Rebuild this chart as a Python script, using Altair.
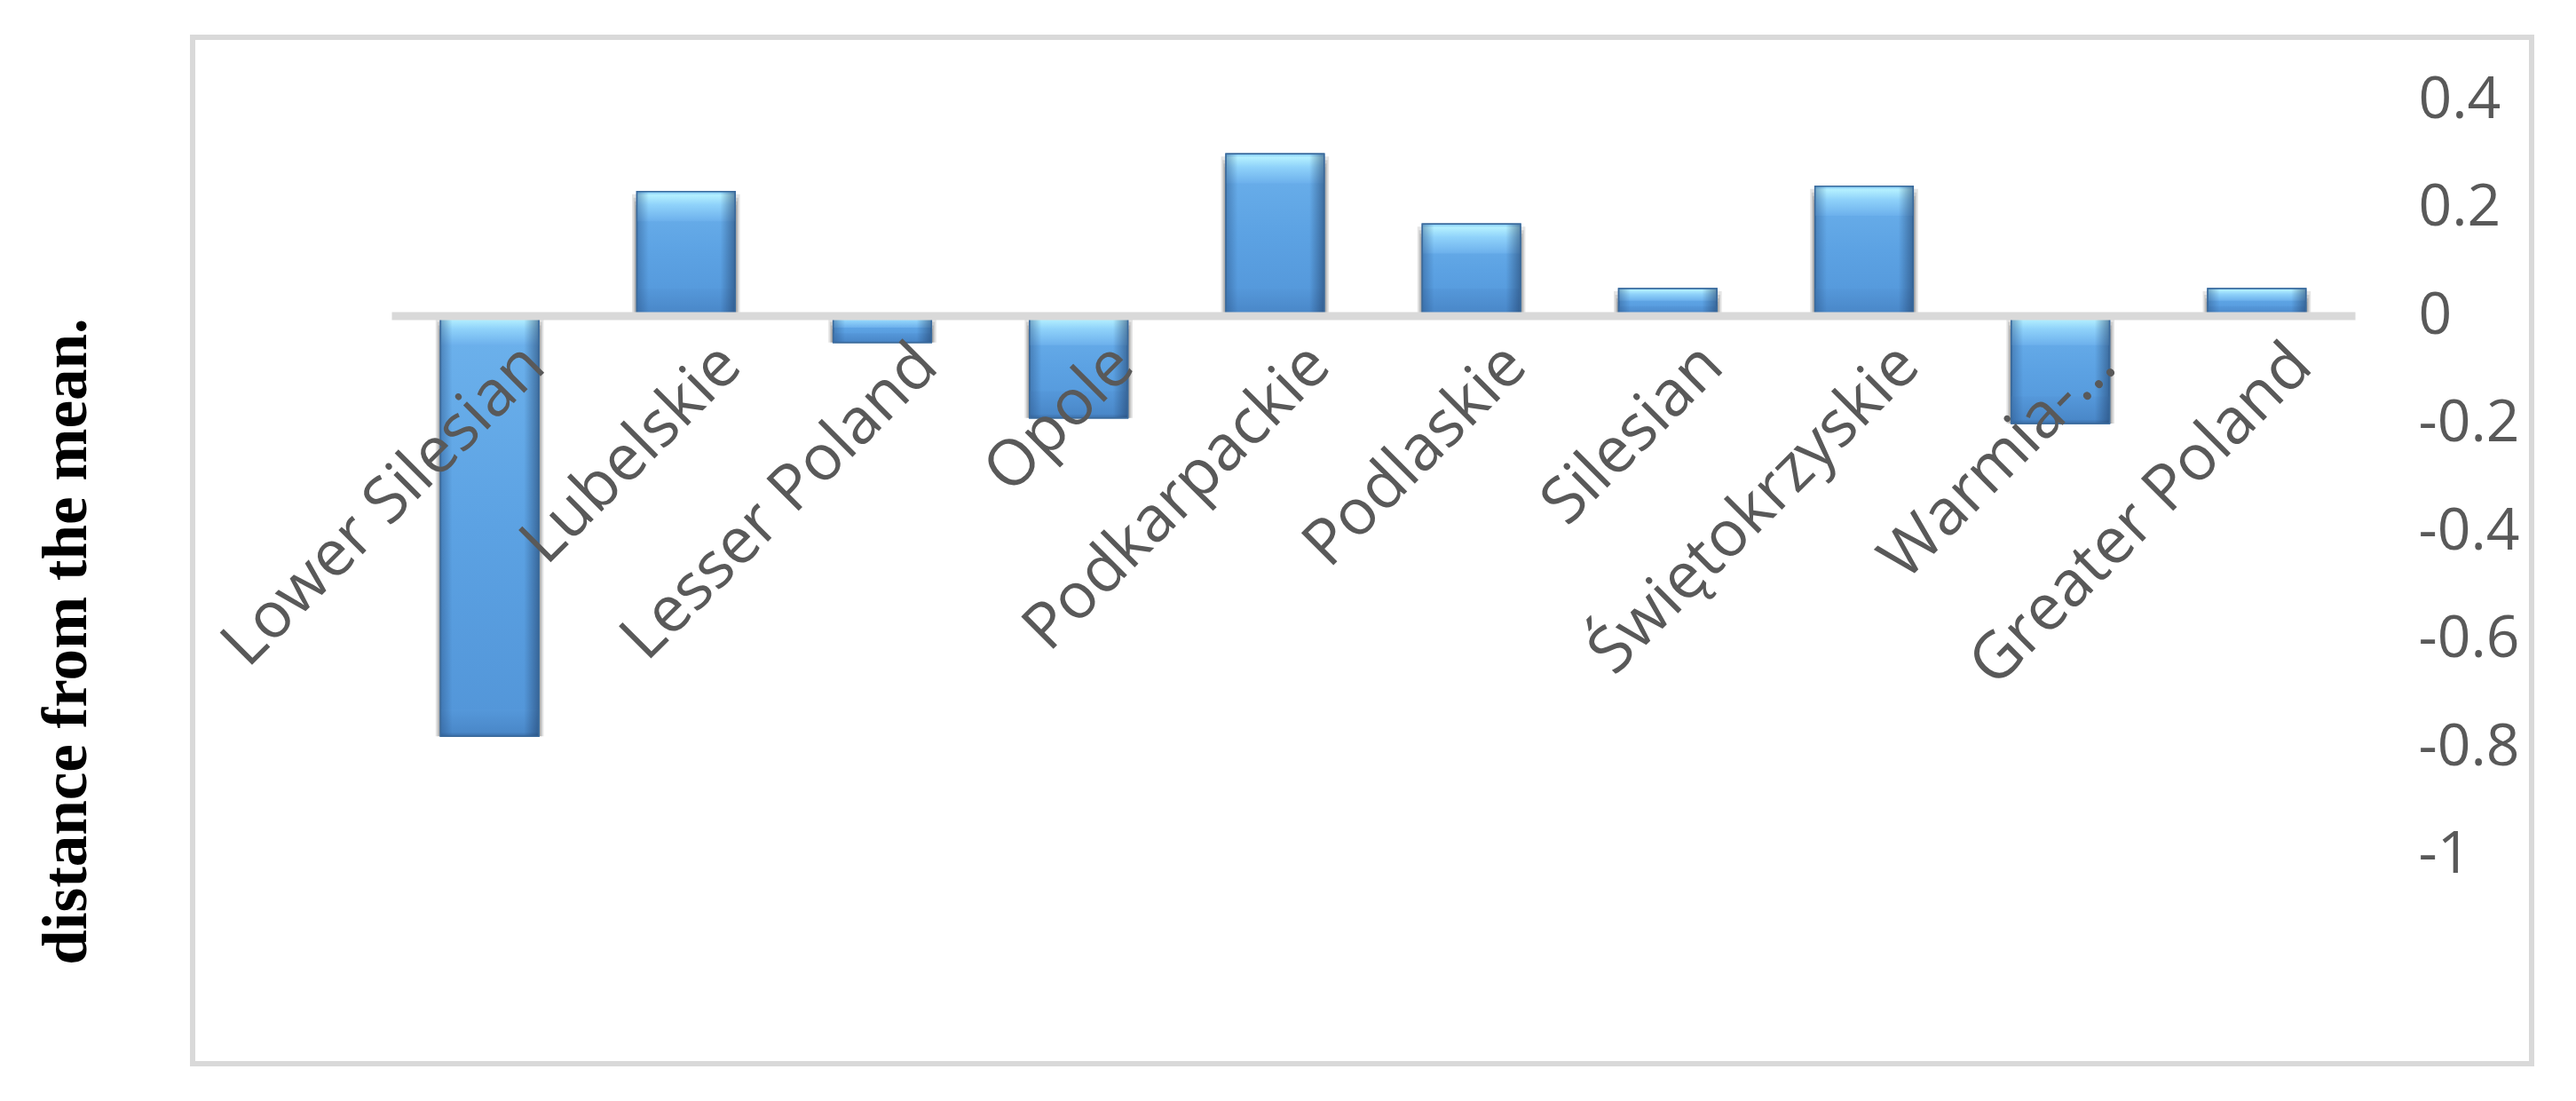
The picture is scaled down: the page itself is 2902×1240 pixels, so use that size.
import altair as alt
import pandas as pd

# ---- data ----
regions = ["Lower Silesian", "Lubelskie", "Lesser Poland", "Opole", "Podkarpackie",
           "Podlaskie", "Silesian", "Świętokrzyskie", "Warmia-…", "Greater Poland"]
distance = [-0.78, 0.23, -0.05, -0.19, 0.30, 0.17, 0.05, 0.24, -0.20, 0.05]
y_ticks = [0.4, 0.2, 0, -0.2, -0.4, -0.6, -0.8, -1]
y_title = "distance from the mean."

df = pd.DataFrame({"region": regions, "value": distance})

W, H = 2635, 1156
Y_DOMAIN = [-1.387, 0.516]
ZERO_PX = H * (Y_DOMAIN[1] - 0) / (Y_DOMAIN[1] - Y_DOMAIN[0])

xscale = alt.Scale(domain=regions, range=[224, 2436], paddingInner=0.5, paddingOuter=0.25)
yscale = alt.Scale(domain=Y_DOMAIN, nice=False, zero=False)

base = alt.Chart(df).transform_calculate(
    top="max(datum.value, 0)",
    bot="min(datum.value, 0)",
    hl_bot="max(datum.value, 0) - min(0.055, abs(datum.value) * 0.45)",
    dk_top="min(datum.value, 0) + min(0.05, abs(datum.value) * 0.35)",
)

x_axis = alt.Axis(
    orient="bottom", offset=-(H - ZERO_PX), domain=True, domainColor="#d9d9d9",
    domainWidth=9, ticks=False, tickSize=0, labelAngle=315, labelAlign="right",
    labelBaseline="middle", labelPadding=44, labelOffset=50, labelFont="Open Sans",
    labelFontSize=72, labelColor="#595959", title=None, zindex=1,
    labelOverlap=False, labelLimit=2000, labelBound=False, labelFlush=False,
)

# same x definition (incl. axis) in every layer so the axes merge into one
X = alt.X("region:N", sort=regions, scale=xscale, axis=x_axis)

# soft shadow below the bars
shadows = []
for off, op, wd in [(3, 0.10, 1.10), (7, 0.10, 1.07), (11, 0.10, 1.05),
                    (15, 0.09, 1.03), (19, 0.07, 1.02), (23, 0.05, 1.0), (27, 0.03, 1.0)]:
    shadows.append(
        base.mark_bar(color="#000000", opacity=op, yOffset=off,
                      width=alt.RelativeBandSize(wd)).encode(
            x=X,
            y=alt.Y("top:Q", scale=yscale, axis=None),
            y2="bot:Q",
        )
    )

face_grad = {
    "gradient": "linear", "x1": 0, "y1": 0, "x2": 0, "y2": 1,
    "stops": [
        {"offset": 0.0, "color": "#6db2ec"},
        {"offset": 0.5, "color": "#5ca2e3"},
        {"offset": 1.0, "color": "#5295d8"},
    ],
}
side_grad = {
    "gradient": "linear", "x1": 0, "y1": 0, "x2": 1, "y2": 0,
    "stops": [
        {"offset": 0.0, "color": "rgba(40,80,130,0.45)"},
        {"offset": 0.12, "color": "rgba(40,80,130,0.0)"},
        {"offset": 0.85, "color": "rgba(30,60,100,0.0)"},
        {"offset": 1.0, "color": "rgba(30,60,100,0.55)"},
    ],
}
hl_grad = {
    "gradient": "linear", "x1": 0, "y1": 0, "x2": 0, "y2": 1,
    "stops": [
        {"offset": 0.0, "color": "#7cc4f5"},
        {"offset": 0.12, "color": "#b4f0ff"},
        {"offset": 0.45, "color": "#8fd2fa"},
        {"offset": 1.0, "color": "#6cb0ec"},
    ],
}
dk_grad = {
    "gradient": "linear", "x1": 0, "y1": 0, "x2": 0, "y2": 1,
    "stops": [
        {"offset": 0.0, "color": "#5598da"},
        {"offset": 0.85, "color": "#4a88c9"},
        {"offset": 1.0, "color": "#3a6ea8"},
    ],
}

right_axis = alt.Axis(
    orient="right", values=y_ticks, labelExpr="toString(datum.value)",
    domain=False, ticks=False, tickSize=0, grid=False, labelPadding=0,
    offset=-128, labelAlign="left", labelBaseline="middle",
    labelFont="Open Sans", labelFontSize=66, labelColor="#595959",
    title=None,
)

face = base.mark_bar(fill=face_grad, stroke="#3d72a8", strokeWidth=1.5).encode(
    x=X,
    y=alt.Y("top:Q", scale=yscale, axis=right_axis),
    y2="bot:Q",
)

bottom_bevel = base.mark_bar(fill=dk_grad).encode(
    x=X,
    y=alt.Y("dk_top:Q", scale=yscale, axis=None),
    y2="bot:Q",
)

top_bevel = base.mark_bar(fill=hl_grad).encode(
    x=X,
    y=alt.Y("top:Q", scale=yscale, axis=None),
    y2="hl_bot:Q",
)

sides = base.mark_bar(fill=side_grad, stroke="#3a6a9c", strokeWidth=1.5).encode(
    x=X,
    y=alt.Y("top:Q", scale=yscale, axis=None),
    y2="bot:Q",
)

left_title = base.mark_bar(opacity=0).encode(
    x=X,
    y=alt.Y("top:Q", scale=yscale, axis=alt.Axis(
        orient="left", title=y_title, labels=False, ticks=False, domain=False,
        grid=False, titleFont="Liberation Serif", titleFontSize=71,
        titleFontWeight="bold", titleColor="#000000", titleX=-142, titleY=680,
        titleAngle=270, titleAlign="center", titleBaseline="middle",
    )),
    y2="bot:Q",
)

chart = alt.layer(
    *shadows, face, bottom_bevel, top_bevel, sides, left_title
).resolve_axis(y="independent").properties(
    width=W, height=H,
    autosize=alt.AutoSizeParams(type="none"),
    padding={"left": 209, "top": 34, "right": 40, "bottom": 30},
    background="#ffffff",
).configure_view(stroke="#d9d9d9", strokeWidth=6)

chart.save("out.html", embed_options={"renderer": "svg", "actions": False})
